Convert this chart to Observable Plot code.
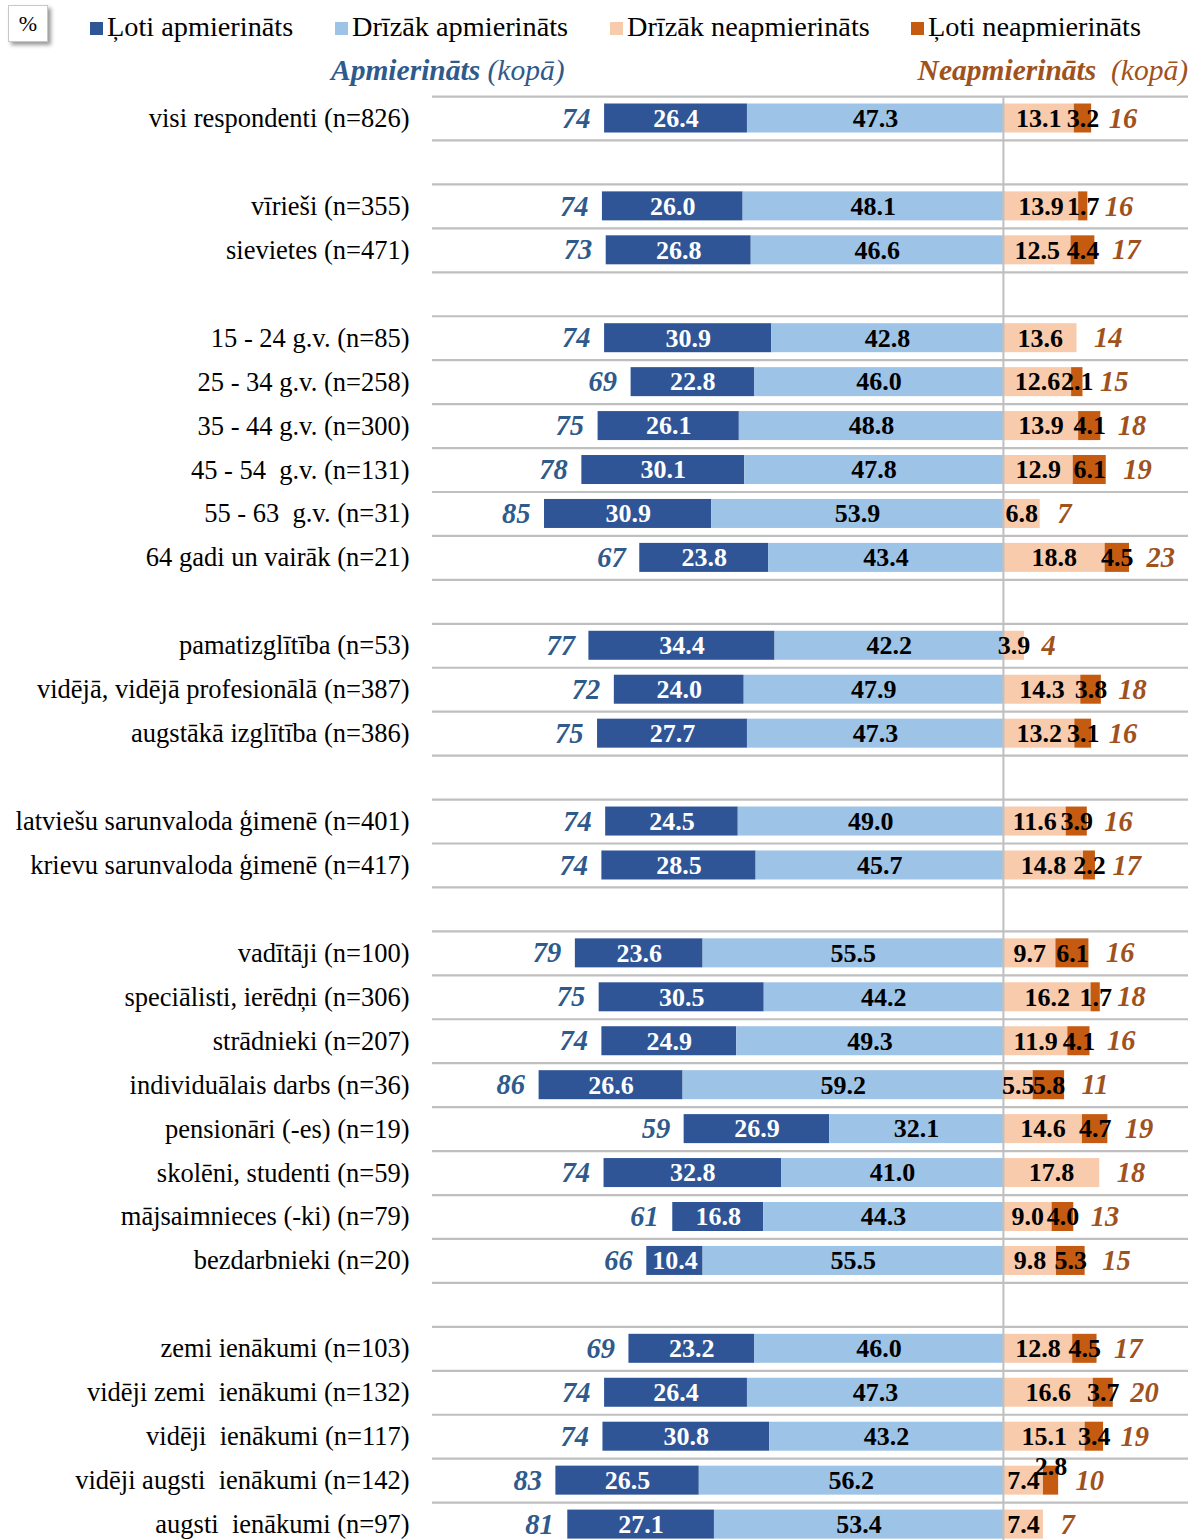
<!DOCTYPE html>
<html><head><meta charset="utf-8">
<script src="https://cdn.jsdelivr.net/npm/d3@7"></script>
<script src="https://cdn.jsdelivr.net/npm/@observablehq/plot@0.6"></script>
<style>
html,body{margin:0;padding:0;background:#fff;overflow:hidden;}
#wrap{width:1194px;font-family:"Liberation Serif","Times New Roman",serif;}
#header{position:relative;height:85px;}
.pct{position:absolute;left:8px;top:5px;width:38px;height:35px;border:1px solid #c8c8c8;box-shadow:3px 3px 4px #9a9a9a;font-size:22px;text-align:center;line-height:35px;background:#fff;}
.lg{position:absolute;top:10px;font-size:28.3px;line-height:34px;white-space:nowrap;color:#000;}
.lg i{display:inline-block;width:13px;height:13px;margin-right:4px;vertical-align:1px;}
.tot{position:absolute;top:52px;font-size:29.5px;line-height:36px;font-style:italic;white-space:pre;}
.tot b{font-weight:bold;}
svg text{white-space:pre;}
</style></head>
<body><div id="wrap">
<div id="header"></div>
<div id="chart"></div>
</div>
<script>
const categories = [
  "visi respondenti (n=826)",
  "vīrieši (n=355)", "sievietes (n=471)",
  "15 - 24 g.v. (n=85)", "25 - 34 g.v. (n=258)", "35 - 44 g.v. (n=300)", "45 - 54  g.v. (n=131)", "55 - 63  g.v. (n=31)", "64 gadi un vairāk (n=21)",
  "pamatizglītība (n=53)", "vidējā, vidējā profesionālā (n=387)", "augstākā izglītība (n=386)",
  "latviešu sarunvaloda ģimenē (n=401)", "krievu sarunvaloda ģimenē (n=417)",
  "vadītāji (n=100)", "speciālisti, ierēdņi (n=306)", "strādnieki (n=207)", "individuālais darbs (n=36)", "pensionāri (-es) (n=19)", "skolēni, studenti (n=59)", "mājsaimnieces (-ki) (n=79)", "bezdarbnieki (n=20)",
  "zemi ienākumi (n=103)", "vidēji zemi  ienākumi (n=132)", "vidēji  ienākumi (n=117)", "vidēji augsti  ienākumi (n=142)", "augsti  ienākumi (n=97)"
];
const groupSizes = [1, 2, 6, 3, 2, 8, 5];
const veryS   = [26.4, 26.0, 26.8, 30.9, 22.8, 26.1, 30.1, 30.9, 23.8, 34.4, 24.0, 27.7, 24.5, 28.5, 23.6, 30.5, 24.9, 26.6, 26.9, 32.8, 16.8, 10.4, 23.2, 26.4, 30.8, 26.5, 27.1];
const ratherS = [47.3, 48.1, 46.6, 42.8, 46.0, 48.8, 47.8, 53.9, 43.4, 42.2, 47.9, 47.3, 49.0, 45.7, 55.5, 44.2, 49.3, 59.2, 32.1, 41.0, 44.3, 55.5, 46.0, 47.3, 43.2, 56.2, 53.4];
const ratherD = [13.1, 13.9, 12.5, 13.6, 12.6, 13.9, 12.9, 6.8, 18.8, 3.9, 14.3, 13.2, 11.6, 14.8, 9.7, 16.2, 11.9, 5.5, 14.6, 17.8, 9.0, 9.8, 12.8, 16.6, 15.1, 7.4, 7.4];
const veryD   = [3.2, 1.7, 4.4, 0, 2.1, 4.1, 6.1, 0, 4.5, 0, 3.8, 3.1, 3.9, 2.2, 6.1, 1.7, 4.1, 5.8, 4.7, 0, 4.0, 5.3, 4.5, 3.7, 3.4, 2.8, 0];
const totalS  = [74, 74, 73, 74, 69, 75, 78, 85, 67, 77, 72, 75, 74, 74, 79, 75, 74, 86, 59, 74, 61, 66, 69, 74, 74, 83, 81];
const totalD  = [16, 16, 17, 14, 15, 18, 19, 7, 23, 4, 18, 16, 16, 17, 16, 18, 16, 11, 19, 18, 13, 15, 17, 20, 19, 10, 7];
const seriesNames = ["Ļoti apmierināts", "Drīzāk apmierināts", "Drīzāk neapmierināts", "Ļoti neapmierināts"];
const seriesColors = ["#2F5597", "#9DC3E6", "#F8CBAD", "#C55A11"];
const raisedLabels = ["vidēji augsti  ienākumi (n=142)"];

// header
const headerEl = document.getElementById("header");
headerEl.innerHTML = `<div class="pct">%</div>` +
  [90, 335, 610, 911].map((l, i) =>
    `<div class="lg" style="left:${l}px"><i style="background:${seriesColors[i]}"></i>${seriesNames[i]}</div>`).join("") +
  `<div class="tot" style="left:331px;color:#2E5A8C"><b>Apmierināts</b> (kopā)</div>` +
  `<div class="tot" style="right:6px;color:#A0521C"><b>Neapmierināts</b>  (kopā)</div>`;

// slot domain with blank separators
const slots = [];
let k = 0;
groupSizes.forEach((n, g) => {
  for (let i = 0; i < n; i++) slots.push(categories[k++]);
  if (g < groupSizes.length - 1) slots.push("\u200B".repeat(g + 1));
});

const rows = categories.map((c, i) => ({c, a: veryS[i], b: ratherS[i], d1: ratherD[i], d2: veryD[i], ts: totalS[i], td: totalD[i]}));
const segs = [];
rows.forEach(r => {
  segs.push({c: r.c, x1: -(r.a + r.b), x2: -r.b, v: r.a, s: 0});
  segs.push({c: r.c, x1: -r.b, x2: 0, v: r.b, s: 1});
  segs.push({c: r.c, x1: 0, x2: r.d1, v: r.d1, s: 2});
  segs.push({c: r.c, x1: r.d1, x2: r.d1 + r.d2, v: r.d2, s: 3});
});
const shown = segs.filter(d => d.v > 0);

const step = 43.94, pad = 0.34, headerH = 85;
const firstCenter = 118 - headerH;
const r0 = firstCenter - step * (1 + pad) / 2;
const r1 = r0 + step * (slots.length + pad);
const grid = "#BFBFBF";

const chart = Plot.plot({
  width: 1194,
  height: 1470,
  marginLeft: 432,
  marginRight: 6,
  marginTop: firstCenter - step / 2,
  marginBottom: 0,
  style: {fontFamily: "Liberation Serif, Times New Roman, serif", background: "#fff"},
  x: {domain: [-105.5, 34.2], axis: null},
  y: {domain: slots, range: [r0, r1], padding: pad, label: null, axis: null},
  color: {type: "identity"},
  marks: [
    Plot.ruleY(slots, {y: d => d, dy: -step / 2, stroke: grid, strokeWidth: 2.2}),
    Plot.barX(shown, {y: "c", x1: "x1", x2: "x2", fill: d => seriesColors[d.s]}),
    Plot.ruleX([0], {stroke: grid, strokeWidth: 2}),
    Plot.text(shown.filter(d => !(d.s === 3 && raisedLabels.includes(d.c))), {
      y: "c", x: d => (d.x1 + d.x2) / 2, text: d => d.v.toFixed(1),
      fill: d => d.s === 0 ? "#fff" : "#000", fontWeight: "bold", fontSize: 26
    }),
    Plot.text(shown.filter(d => d.s === 3 && raisedLabels.includes(d.c)), {
      y: "c", x: d => (d.x1 + d.x2) / 2, dy: -14, text: d => d.v.toFixed(1),
      fill: "#000", fontWeight: "bold", fontSize: 26
    }),
    Plot.text(rows, {y: "c", x: d => -(d.a + d.b), dx: -14, textAnchor: "end", text: d => String(d.ts),
      fill: "#2E5A8C", fontStyle: "italic", fontWeight: "bold", fontSize: 28.5}),
    Plot.text(rows, {y: "c", x: d => d.d1 + d.d2, dx: 17, textAnchor: "start", text: d => String(d.td),
      fill: "#A0521C", fontStyle: "italic", fontWeight: "bold", fontSize: 28.5}),
    Plot.axisY(categories, {tickSize: 0, tickPadding: 23, fontSize: 26.5, fill: "#000", label: null})
  ]
});
document.getElementById("chart").appendChild(chart);
</script>
</body></html>
